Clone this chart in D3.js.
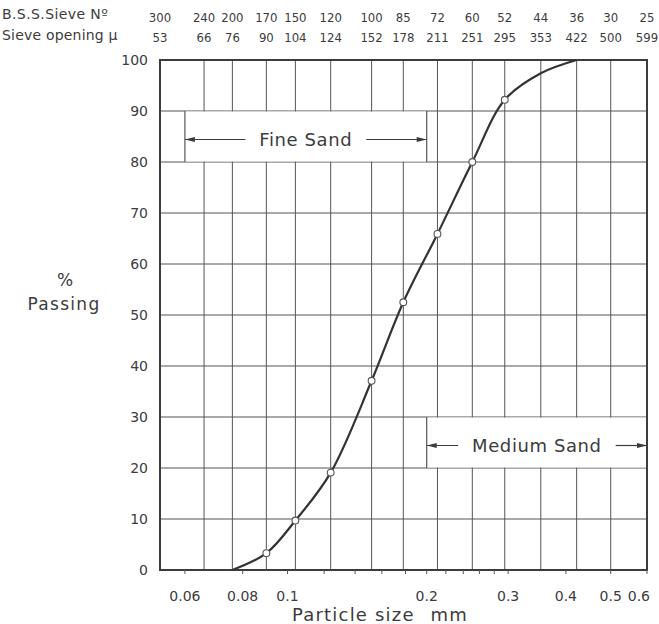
<!DOCTYPE html>
<html>
<head>
<meta charset="utf-8">
<script src="https://cdn.jsdelivr.net/npm/d3@7"></script>
<style>
	body { margin: 0; background: #fff; }
	svg { display: block; font-family: "DejaVu Sans", sans-serif; }
</style>
</head>
<body>
<div id="chart"></div>
<script>
// B.S.S. sieve numbers and their openings (microns)
const sieveNumbers = [300, 240, 200, 170, 150, 120, 100, 85, 72, 60, 52, 44, 36, 30, 25];
const sieveOpenings = [53, 66, 76, 90, 104, 124, 152, 178, 211, 251, 295, 353, 422, 500, 599];

// grading curve, particle size (mm) vs % passing
const curveSizes = [0.076, 0.090, 0.104, 0.124, 0.152, 0.178, 0.211, 0.251, 0.295, 0.353, 0.422];
const curvePassing = [0, 3.3, 9.7, 19.1, 37.1, 52.5, 65.9, 80, 92.2, 97.4, 100];
// sieve results marked with a little circle
const markedSizes = [0.090, 0.104, 0.124, 0.152, 0.178, 0.211, 0.251, 0.295];
const markedPassing = [3.3, 9.7, 19.1, 37.1, 52.5, 65.9, 80, 92.2];

const xTicks = [0.06, 0.08, 0.10, 0.12, 0.14, 0.16, 0.18, 0.20, 0.22, 0.24, 0.26, 0.28, 0.30, 0.4, 0.5, 0.6];
const xTickLabels = ["0.06", "0.08", "0.1", "0.2", "0.3", "0.4", "0.5", "0.6"];
const yTicks = [0, 10, 20, 30, 40, 50, 60, 70, 80, 90, 100];

// soil classes: name, size range (mm), band of % it is written in
const bandNames = ["Fine Sand", "Medium Sand"];
const bandFrom = [0.06, 0.2];
const bandTo = [0.2, 0.6];
const bandLow = [80, 20];
const bandHigh = [90, 30];

{
	const width = 659, height = 624;
	const margin = { top: 60, right: 12, bottom: 54, left: 160 };
	const ink = "#3c3c3c", grid = "#555";

	const svg = d3.select("#chart").append("svg")
		.attr("width", width)
		.attr("height", height);

	const x = d3.scaleLog()
		.domain([sieveOpenings[0] / 1000, sieveOpenings[sieveOpenings.length - 1] / 1000])
		.range([margin.left, width - margin.right]);
	const y = d3.scaleLinear()
		.domain([0, 100])
		.range([height - margin.bottom, margin.top]);

	const [x0, x1] = x.range();
	const [y0, y1] = y.range();

	// grid
	svg.append("g").selectAll("line")
		.data(yTicks.slice(1, -1))
		.join("line")
			.attr("x1", x0).attr("x2", x1)
			.attr("y1", d => y(d)).attr("y2", d => y(d))
			.attr("stroke", grid).attr("stroke-width", 1);

	svg.append("g").selectAll("line")
		.data(sieveOpenings.slice(1, -1))
		.join("line")
			.attr("x1", d => x(d / 1000)).attr("x2", d => x(d / 1000))
			.attr("y1", y0).attr("y2", y1)
			.attr("stroke", grid).attr("stroke-width", 1);

	// sand bands
	const bands = bandNames.map((name, i) => ({
		name, from: bandFrom[i], to: Math.min(bandTo[i], x.domain()[1]), lo: bandLow[i], hi: bandHigh[i]
	}));

	const bandG = svg.append("g").selectAll("g")
		.data(bands)
		.join("g");

	bandG.append("rect")
		.attr("x", d => x(d.from))
		.attr("y", d => y(d.hi) + 0.5)
		.attr("width", d => x(d.to) - x(d.from))
		.attr("height", d => y(d.lo) - y(d.hi) - 1)
		.attr("fill", "#fff");

	bandG.each(function (d) {
		const g = d3.select(this);
		const xa = x(d.from), xb = x(d.to);
		const ya = y(d.hi), yb = y(d.lo);
		const ym = (ya + yb) / 2 + 3;

		[xa, xb].forEach(xe => {
			g.append("line")
				.attr("x1", xe).attr("x2", xe)
				.attr("y1", ya).attr("y2", yb)
				.attr("stroke", grid).attr("stroke-width", 1.2);
		});

		const label = g.append("text")
			.attr("x", (xa + xb) / 2)
			.attr("y", ym + 6)
			.attr("text-anchor", "middle")
			.attr("font-size", 18)
			.attr("letter-spacing", 0.6)
			.attr("fill", ink)
			.text(d.name);
		const half = label.node().getComputedTextLength() / 2 + 14;
		const xc = (xa + xb) / 2;

		g.append("line")
			.attr("x1", xa).attr("x2", xc - half)
			.attr("y1", ym).attr("y2", ym)
			.attr("stroke", ink).attr("stroke-width", 1.2);
		g.append("line")
			.attr("x1", xc + half).attr("x2", xb)
			.attr("y1", ym).attr("y2", ym)
			.attr("stroke", ink).attr("stroke-width", 1.2);

		// arrow heads pointing out to the limits
		g.append("path")
			.attr("d", `M${xa},${ym}l10,-2.5v5z M${xb},${ym}l-10,-2.5v5z`)
			.attr("fill", ink);
	});

	// frame
	svg.append("rect")
		.attr("x", x0).attr("y", y1)
		.attr("width", x1 - x0).attr("height", y0 - y1)
		.attr("fill", "none")
		.attr("stroke", ink).attr("stroke-width", 2);

	// grading curve
	const pts = curveSizes.map((s, i) => [x(s), y(curvePassing[i])]);
	svg.append("path")
		.attr("d", d3.line().curve(d3.curveCatmullRom.alpha(0.5))(pts))
		.attr("fill", "none")
		.attr("stroke", "#333")
		.attr("stroke-width", 2.2);

	svg.append("g").selectAll("circle")
		.data(markedSizes)
		.join("circle")
			.attr("cx", d => x(d))
			.attr("cy", (d, i) => y(markedPassing[i]))
			.attr("r", 3.4)
			.attr("fill", "#fff")
			.attr("stroke", "#555")
			.attr("stroke-width", 1.1);

	// x axis ticks and labels
	svg.append("g").selectAll("line")
		.data(xTicks)
		.join("line")
			.attr("x1", d => x(Math.min(d, x.domain()[1]))).attr("x2", d => x(Math.min(d, x.domain()[1])))
			.attr("y1", y0).attr("y2", y0 + 4)
			.attr("stroke", grid).attr("stroke-width", 1);

	svg.append("g").selectAll("text")
		.data(xTickLabels)
		.join("text")
			.attr("x", (d, i, n) => i === n.length - 1 ? x1 + 3 : x(+d))
			.attr("y", y0 + 31)
			.attr("text-anchor", (d, i, n) => i === n.length - 1 ? "end" : "middle")
			.attr("font-size", 14)
			.attr("fill", ink)
			.text(d => d);

	svg.append("text")
		.attr("x", 292).attr("y", height - 3)
		.attr("font-size", 18).attr("letter-spacing", 1.2)
		.attr("fill", ink)
		.text("Particle size");
	svg.append("text")
		.attr("x", 468).attr("y", height - 3)
		.attr("text-anchor", "end")
		.attr("font-size", 18).attr("letter-spacing", 1.2)
		.attr("fill", ink)
		.text("mm");

	// y axis labels
	svg.append("g").selectAll("text")
		.data(yTicks)
		.join("text")
			.attr("x", x0 - 12)
			.attr("y", d => y(d))
			.attr("dy", "0.36em")
			.attr("text-anchor", "end")
			.attr("font-size", 14)
			.attr("fill", ink)
			.text(d => d);

	svg.append("text")
		.attr("x", 65).attr("y", 286)
		.attr("text-anchor", "middle")
		.attr("font-size", 17)
		.attr("fill", ink)
		.text("%");
	svg.append("text")
		.attr("x", 64).attr("y", 310)
		.attr("text-anchor", "middle")
		.attr("font-size", 17).attr("letter-spacing", 1.3)
		.attr("fill", ink)
		.text("Passing");

	// sieve rows along the top
	const top = svg.append("g")
		.attr("fill", ink);

	top.append("text")
		.attr("x", 2).attr("y", 19)
		.attr("font-size", 14).attr("letter-spacing", 0.4)
		.text("B.S.S.Sieve N\u00BA");
	top.append("text")
		.attr("x", 2).attr("y", 40)
		.attr("font-size", 14).attr("letter-spacing", 0.2)
		.text("Sieve opening \u03BC");

	top.selectAll("text.no")
		.data(sieveNumbers)
		.join("text")
			.attr("class", "no")
			.attr("x", (d, i) => x(sieveOpenings[i] / 1000))
			.attr("y", 22)
			.attr("text-anchor", "middle")
			.attr("font-family", "'DejaVu Sans Condensed', sans-serif")
			.attr("font-size", 13)
			.text(d => d);

	top.selectAll("text.op")
		.data(sieveOpenings)
		.join("text")
			.attr("class", "op")
			.attr("x", d => x(d / 1000))
			.attr("y", 42)
			.attr("text-anchor", "middle")
			.attr("font-family", "'DejaVu Sans Condensed', sans-serif")
			.attr("font-size", 13)
			.text(d => d);
}
</script>
</body>
</html>
